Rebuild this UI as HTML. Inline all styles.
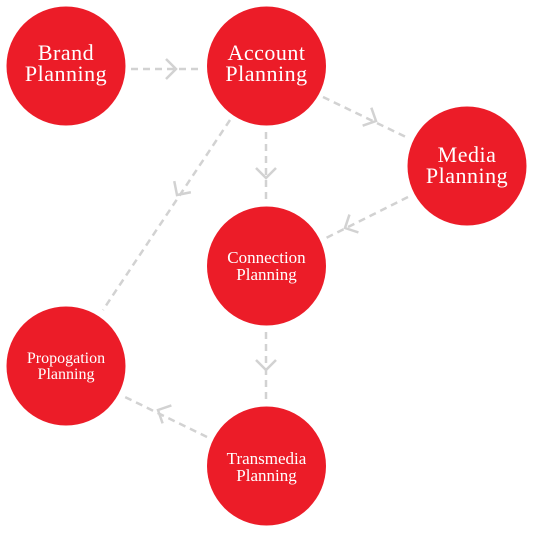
<!DOCTYPE html>
<html><head><style>body{margin:0;background:#fff}</style></head><body>
<svg width="533" height="533" viewBox="0 0 533 533" xmlns="http://www.w3.org/2000/svg">
<g stroke="#d2d2d2" stroke-width="2.5" stroke-dasharray="7,5" fill="none">
<line x1="131" y1="69" x2="203" y2="69"/>
<line x1="323" y1="97" x2="408" y2="138"/>
<line x1="266" y1="132" x2="266" y2="202"/>
<line x1="230" y1="120" x2="103" y2="310"/>
<line x1="408" y1="197" x2="326" y2="238"/>
<line x1="266" y1="332" x2="266" y2="402"/>
<line x1="207" y1="437" x2="125" y2="397"/>
</g>
<g stroke="#d2d2d2" stroke-width="2.5" fill="none">
<path d="M166,59 L176,69 L166,79"/>
<g transform="translate(376,121) rotate(25.7)"><path d="M-10,-10 L0,0 L-10,10"/></g>
<path d="M256,168 L266,178 L276,168"/>
<g transform="translate(177,195) rotate(123.8)"><path d="M-10,-10 L0,0 L-10,10"/></g>
<g transform="translate(345,228) rotate(153.4)"><path d="M-10,-10 L0,0 L-10,10"/></g>
<path d="M256,360 L266,370 L276,360"/>
<g transform="translate(158,410) rotate(206)"><path d="M-10,-10 L0,0 L-10,10"/></g>
</g>
<g fill="#ec1c28">
<circle cx="66" cy="66" r="59.5"/>
<circle cx="266.5" cy="66" r="59.5"/>
<circle cx="467" cy="166" r="59.5"/>
<circle cx="266.5" cy="266" r="59.5"/>
<circle cx="66" cy="366" r="59.5"/>
<circle cx="266.5" cy="466" r="59.5"/>
</g>
<g fill="#fff" font-family="Liberation Serif, serif" text-anchor="middle">
<text x="66" y="60" font-size="22" letter-spacing="0.5">Brand</text><text x="66" y="81" font-size="22" letter-spacing="0.5">Planning</text>
<text x="266.5" y="60" font-size="22" letter-spacing="0.5">Account</text><text x="266.5" y="81" font-size="22" letter-spacing="0.5">Planning</text>
<text x="467" y="162" font-size="22" letter-spacing="0.5">Media</text><text x="467" y="183" font-size="22" letter-spacing="0.5">Planning</text>
<text x="266.5" y="263" font-size="17">Connection</text><text x="266.5" y="280" font-size="17">Planning</text>
<text x="66" y="363" font-size="16">Propogation</text><text x="66" y="379" font-size="16">Planning</text>
<text x="266.5" y="464" font-size="17">Transmedia</text><text x="266.5" y="481" font-size="17">Planning</text>
</g>
</svg>
</body></html>
